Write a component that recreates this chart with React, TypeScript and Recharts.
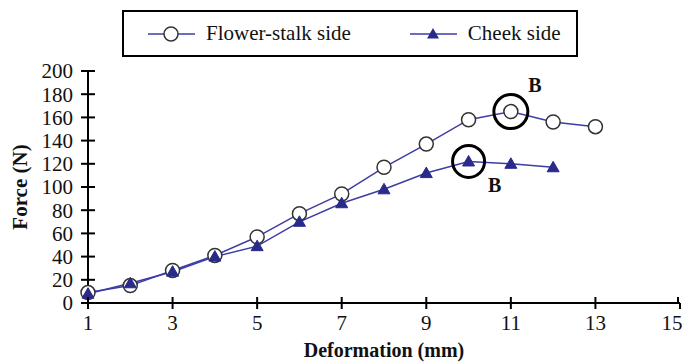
import { LineChart, Line, XAxis, YAxis, Legend, ReferenceDot, Label } from "recharts";

const deformation = [1, 2, 3, 4, 5, 6, 7, 8, 9, 10, 11, 12, 13];
const flowerStalk = [9, 15, 28, 41, 57, 77, 94, 117, 137, 158, 165, 156, 152];
const cheek = [8, 17, 27, 40, 49, 70, 86, 98, 112, 122, 120, 117];
const xTicks = [1, 3, 5, 7, 9, 11, 13, 15];
const yTicks = [0, 20, 40, 60, 80, 100, 120, 140, 160, 180, 200];
// index of the break point "B" in each series
const flowerPeak = 10;
const cheekPeak = 9;

const flowerData = flowerStalk.map((v, i) => ({ x: deformation[i], y: v }));
const cheekData = cheek.map((v, i) => ({ x: deformation[i], y: v }));

const FONT = "'Liberation Serif', 'Times New Roman', serif";
const LINE = "#3c3ca6";
const TRI = "#2a2a8a";

const triPath = (cx: number, cy: number, s: number) =>
  `M${cx},${cy - s} L${cx + s},${cy + s * 0.75} L${cx - s},${cy + s * 0.75} Z`;

const TriangleDot = (props: any) => {
  const { cx, cy, index } = props;
  if (cx == null || cy == null) return null;
  return <path key={`t${index}`} d={triPath(cx, cy, 6)} fill={TRI} stroke={TRI} strokeWidth={1} />;
};

const YTick = (props: any) => {
  const { x, y, payload } = props;
  const ax = x + 15; // axis position = text x + tickSize + tickMargin
  return (
    <g>
      <line x1={ax} x2={ax + 7} y1={y} y2={y} stroke="#000" strokeWidth={2} />
      <text x={x} y={y} dy="0.35em" textAnchor="end" fontFamily={FONT} fontSize={21} fill="#111">
        {payload.value}
      </text>
    </g>
  );
};

const XTick = (props: any) => {
  const { x, y, payload } = props;
  const ay = y - 11;
  // last label sits against the right edge, as in the source figure
  const tx = payload.value === 15 ? x - 6 : x;
  return (
    <g>
      <line x1={x} x2={x} y1={ay} y2={ay - 6} stroke="#000" strokeWidth={2} />
      <text x={tx} y={y} dy="0.75em" textAnchor="middle" fontFamily={FONT} fontSize={21} fill="#111">
        {payload.value}
      </text>
    </g>
  );
};

const LegendBox = () => (
  <div
    style={{
      width: 452,
      height: 43,
      border: "2px solid #000",
      display: "flex",
      alignItems: "center",
      fontFamily: FONT,
      fontSize: 21,
      color: "#111",
    }}
  >
    <svg width={60} height={20} style={{ marginLeft: 20 }}>
      <line x1={4} x2={51} y1={10} y2={10} stroke={LINE} strokeWidth={1.5} />
      <circle cx={27} cy={10} r={7} fill="#fff" stroke="#333" strokeWidth={1.5} />
    </svg>
    <span style={{ marginLeft: 2 }}>Flower-stalk side</span>
    <svg width={60} height={20} style={{ marginLeft: 55 }}>
      <line x1={4} x2={51} y1={10} y2={10} stroke={LINE} strokeWidth={1.5} />
      <path d={triPath(27, 10, 6)} fill={TRI} />
    </svg>
    <span style={{ marginLeft: 2 }}>Cheek side</span>
  </div>
);

const BLabel = (dx: number, dy: number) => (props: any) => {
  const vb = props.viewBox || {};
  const cx = vb.x + vb.width / 2;
  const cy = vb.y + vb.height / 2;
  return (
    <text x={cx + dx} y={cy + dy} dy="0.35em" textAnchor="middle" fontFamily={FONT} fontWeight="bold" fontSize={20} fill="#111">
      B
    </text>
  );
};

export default function App() {
  return (
    <div style={{ position: "absolute", left: 0, top: 0 }}>
      <LineChart width={686} height={363} margin={{ top: 24, right: 6, bottom: 0, left: 0 }}>
        <Legend
          verticalAlign="top"
          align="left"
          content={() => <LegendBox />}
          wrapperStyle={{ top: 10, left: 122, width: 456 }}
        />
        <XAxis
          dataKey="x"
          type="number"
          domain={[1, 15]}
          ticks={xTicks}
          allowDuplicatedCategory={false}
          height={60}
          tickSize={6}
          tickMargin={5}
          tick={<XTick />}
          axisLine={{ stroke: "#000", strokeWidth: 2 }}
          tickLine={{ stroke: "#000", strokeWidth: 2 }}
        >
          <Label
            content={(p: any) => {
              const vb = p.viewBox || {};
              return (
                <text
                  x={vb.x + vb.width / 2}
                  y={vb.y + vb.height - 6}
                  textAnchor="middle"
                  fontFamily={FONT}
                  fontWeight="bold"
                  fontSize={20}
                  fill="#111"
                >
                  Deformation (mm)
                </text>
              );
            }}
          />
        </XAxis>
        <YAxis
          dataKey="y"
          type="number"
          domain={[0, 200]}
          ticks={yTicks}
          width={88}
          tickSize={7}
          tickMargin={8}
          tick={<YTick />}
          axisLine={{ stroke: "#000", strokeWidth: 2 }}
          tickLine={{ stroke: "#000", strokeWidth: 2 }}
        >
          <Label
            content={(p: any) => {
              const vb = p.viewBox || {};
              const cy = vb.y + vb.height / 2;
              return (
                <text
                  x={20}
                  y={cy}
                  transform={`rotate(-90 20 ${cy})`}
                  textAnchor="middle"
                  dy="0.35em"
                  fontFamily={FONT}
                  fontWeight="bold"
                  fontSize={21}
                  fill="#111"
                >
                  Force (N)
                </text>
              );
            }}
          />
        </YAxis>
        <Line
          data={flowerData}
          dataKey="y"
          name="Flower-stalk side"
          stroke={LINE}
          strokeWidth={1.5}
          dot={{ r: 7, fill: "#fff", stroke: "#333", strokeWidth: 1.5 }}
          isAnimationActive={false}
        />
        <Line
          data={cheekData}
          dataKey="y"
          name="Cheek side"
          stroke={LINE}
          strokeWidth={1.5}
          dot={<TriangleDot />}
          isAnimationActive={false}
        />
        <ReferenceDot
          x={deformation[flowerPeak]}
          y={flowerStalk[flowerPeak]}
          r={17}
          fill="none"
          stroke="#000"
          strokeWidth={3}
          label={BLabel(24, -27)}
        />
        <ReferenceDot
          x={deformation[cheekPeak]}
          y={cheek[cheekPeak]}
          r={16}
          fill="none"
          stroke="#000"
          strokeWidth={3}
          label={BLabel(26, 24)}
        />
      </LineChart>
    </div>
  );
}
